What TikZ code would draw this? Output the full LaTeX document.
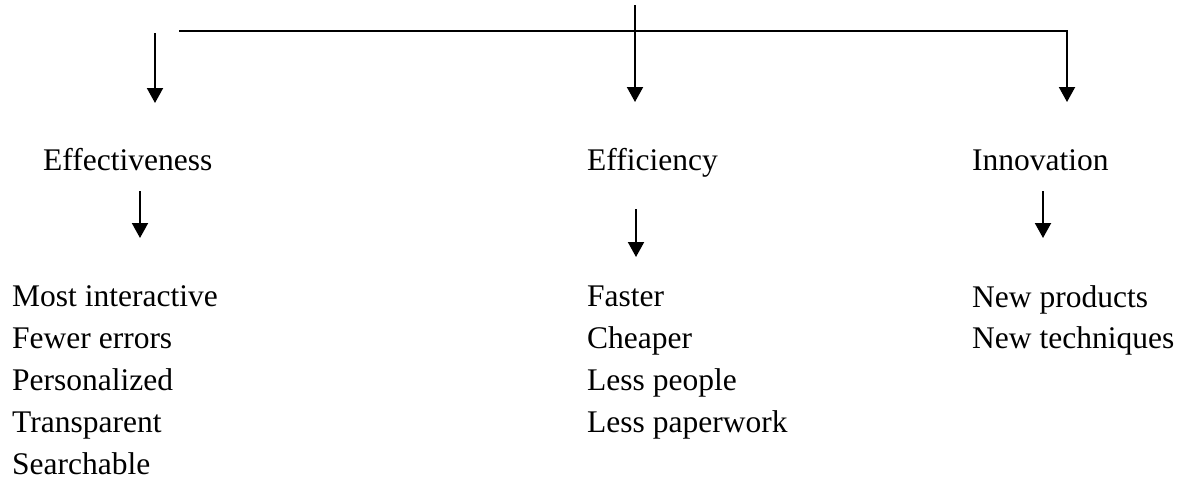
\documentclass[tikz,border=0pt]{standalone}
\usepackage{fontspec}
\setmainfont{Liberation Serif}
\usetikzlibrary{arrows.meta}
\begin{document}
\begin{tikzpicture}[x=1pt,y=-1pt,
  lbl/.style={anchor=base west, inner sep=0pt, font=\fontsize{31.5}{42}\selectfont},
  conn/.style={line width=2pt},
  arr/.style={conn,-{Triangle[length=15pt,width=16pt]}}]
\useasboundingbox (0,0) rectangle (1178,479);
% coordinates for connectors
\coordinate (top) at (635,5);
\coordinate (hl) at (179,31);
\coordinate (hr) at (1067,31);
\coordinate (ltop) at (155,33);
\coordinate (ltip) at (155,103);
\coordinate (ctip) at (635,102);
\coordinate (rtip) at (1067,102);
\coordinate (l2top) at (140,191);
\coordinate (l2tip) at (140,238);
\coordinate (c2top) at (636,209);
\coordinate (c2tip) at (636,257);
\coordinate (r2top) at (1043,191);
\coordinate (r2tip) at (1043,238);
% headings
\node[lbl] (eff) at (43,170) {Effectiveness};
\node[lbl] (effi) at (587,170) {Efficiency};
\node[lbl] (inn) at (972,170) {Innovation};
% lists
\node[lbl] (a1) at (12,306) {Most interactive};
\node[lbl] (a2) at (12,348) {Fewer errors};
\node[lbl] (a3) at (12,390) {Personalized};
\node[lbl] (a4) at (12,432) {Transparent};
\node[lbl,text depth=0pt] (a5) at (12,474) {Searchable};
\node[lbl] (b1) at (587,306) {Faster};
\node[lbl] (b2) at (587,348) {Cheaper};
\node[lbl] (b3) at (587,390) {Less people};
\node[lbl] (b4) at (587,432) {Less paperwork};
\node[lbl] (c1) at (972,307) {New products};
\node[lbl] (c2) at (972,348) {New techniques};
% connectors
\draw[arr] (hl) -- (hr) -- (rtip);
\draw[arr] (top) -- (ctip);
\draw[arr] (ltop) -- (ltip);
\draw[arr] (l2top) -- (l2tip);
\draw[arr] (c2top) -- (c2tip);
\draw[arr] (r2top) -- (r2tip);
\end{tikzpicture}
\end{document}
